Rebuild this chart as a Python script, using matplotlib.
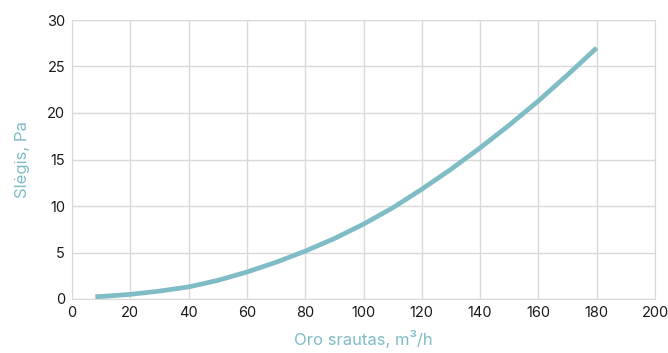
import matplotlib.pyplot as plt

# flow (m3/h) vs pressure (Pa)
flow = [8, 10, 20, 30, 40, 50, 60, 70, 80, 90, 100, 110, 120, 130, 140, 150, 160, 170, 180]
pressure = [0.25, 0.27, 0.5, 0.85, 1.3, 2.0, 2.9, 3.95, 5.15, 6.5, 8.05, 9.8, 11.8, 13.95, 16.25, 18.7, 21.3, 24.1, 27.0]

x_ticks = list(range(0, 201, 20))
y_ticks = list(range(0, 31, 5))

teal = '#7fbcc5'
plt.rcParams['font.family'] = ['Inter', 'DejaVu Sans']

fig = plt.figure(figsize=(6.68, 3.53), dpi=100)
ax = fig.add_axes([72/668, 1 - 299/353, 583/668, 279/353])

ax.plot(flow, pressure, color=teal, lw=3.4, solid_capstyle='butt',
        solid_joinstyle='round', zorder=3)

ax.set_xlim(0, 200)
ax.set_ylim(0, 30)
ax.set_xticks(x_ticks)
ax.set_yticks(y_ticks)
ax.grid(True, color='#d9d9d9', lw=1)
for s in ax.spines.values():
    s.set_color('#d9d9d9')
ax.tick_params(length=0, labelsize=10.5, colors='#1a1a1a', pad=5)
ax.set_xlabel('Oro srautas, m³/h', color=teal, fontsize=12, labelpad=7)
ax.set_ylabel('Slėgis, Pa', color=teal, fontsize=12, labelpad=12)

fig.savefig('out.png', dpi=100)
